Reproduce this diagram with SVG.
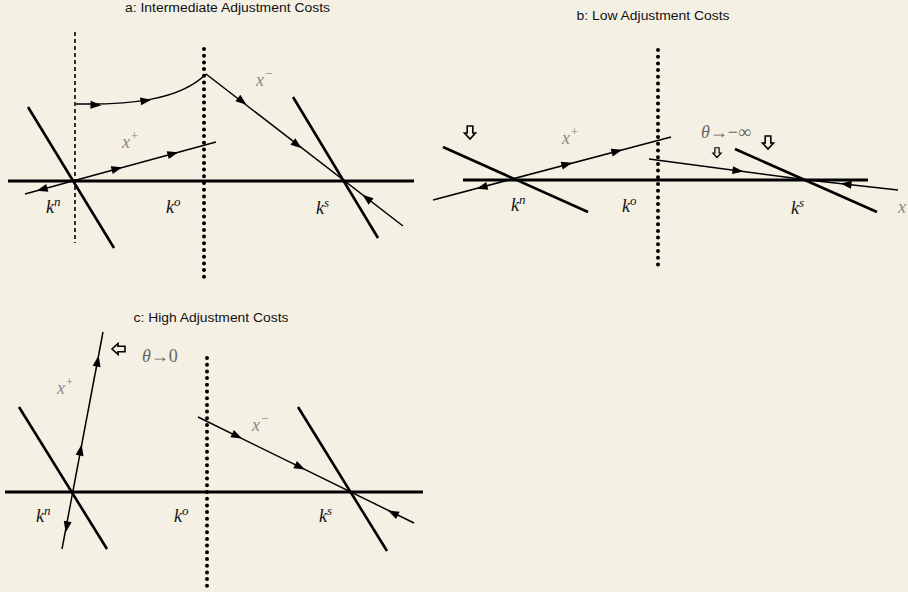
<svg xmlns="http://www.w3.org/2000/svg" xmlns:xlink="http://www.w3.org/1999/xlink" width="908" height="592" viewBox="0 0 908 592">
<style>
.title{font-family:"Liberation Sans",Arial,sans-serif;font-size:12px;fill:#111;text-anchor:middle}
.axis{stroke:#000;stroke-width:3;fill:none}
.thick{stroke:#000;stroke-width:2.6;fill:none}
.path{stroke:#000;stroke-width:1.5;fill:none}
.dots{stroke:#000;stroke-width:4;stroke-linecap:round;stroke-dasharray:0 6.7;fill:none}
.dash{stroke:#000;stroke-width:1.6;stroke-dasharray:4 3;fill:none}
.k{font-family:"Liberation Serif","Times New Roman",serif;font-style:italic;font-size:18px;fill:#111}
.sup{font-size:13px}
.xl{font-family:"Liberation Serif","Times New Roman",serif;font-style:italic;font-size:18px;fill:#888}
.th{font-family:"Liberation Serif","Times New Roman",serif;font-size:18px;fill:#666}
.hollow{fill:none;stroke:#000;stroke-width:1.6}
</style>
<defs>
<path id="ah" d="M4.5,0 L-6.5,-4 L-6.5,4 Z" fill="#000"/>
<path id="hd" d="M-2.8,-7 H2.8 V0 H5.5 L0,6 L-5.5,0 H-2.8 Z"/>
</defs>
<rect width="908" height="592" fill="#f4f0e4"/>

<!-- Panel a -->
<g id="panel-a">
<text class="title" x="227.5" y="12" textLength="205" lengthAdjust="spacingAndGlyphs">a: Intermediate Adjustment Costs</text>
<g id="a-axis"><line class="axis" x1="8" y1="181" x2="414" y2="181"/></g>
<g id="a-kn-bound"><line class="dash" x1="75" y1="32" x2="75" y2="243"/></g>
<g id="a-ko-bound"><line class="dots" x1="204" y1="49" x2="204" y2="277"/></g>
<g id="a-left-locus"><line class="thick" x1="28" y1="107" x2="114" y2="248"/></g>
<g id="a-right-locus"><line class="thick" x1="293" y1="97" x2="378" y2="238"/></g>
<g id="a-labels">
<text class="k" x="46" y="213">k<tspan class="sup" dy="-7">n</tspan></text>
<text class="k" x="166" y="213">k<tspan class="sup" dy="-7">o</tspan></text>
<text class="k" x="316" y="214">k<tspan class="sup" dy="-7">s</tspan></text>
<text class="xl" x="122" y="148">x<tspan class="sup" dy="-8">+</tspan></text>
<text class="xl" x="256" y="86">x<tspan class="sup" dy="-8">−</tspan></text>
</g>
</g>

<!-- Panel b -->
<g id="panel-b">
<text class="title" x="653" y="20" textLength="153" lengthAdjust="spacingAndGlyphs">b: Low Adjustment Costs</text>
<g id="b-axis"><line class="axis" x1="463" y1="180" x2="868" y2="180"/></g>
<g id="b-ko-bound"><line class="dots" x1="658" y1="50" x2="658" y2="267"/></g>
<g id="b-left-locus"><line class="thick" x1="443" y1="147" x2="588" y2="212"/></g>
<g id="b-right-locus"><line class="thick" x1="735" y1="149" x2="877" y2="212"/></g>
<g id="b-labels">
<text class="k" x="511" y="211">k<tspan class="sup" dy="-7">n</tspan></text>
<text class="k" x="622" y="212">k<tspan class="sup" dy="-7">o</tspan></text>
<text class="k" x="791" y="214">k<tspan class="sup" dy="-7">s</tspan></text>
<text class="xl" x="562" y="144">x<tspan class="sup" dy="-8">+</tspan></text>
<text class="xl" x="898" y="213">x</text>
<text class="th" x="701" y="138"><tspan font-style="italic">θ</tspan>→−∞</text>
</g>
<g id="b-shift-arrows">
<use xlink:href="#hd" class="hollow" transform="translate(470,133)"/>
<use xlink:href="#hd" class="hollow" transform="translate(717,153) scale(0.75)"/>
<use xlink:href="#hd" class="hollow" transform="translate(768,143)"/>
</g>
</g>

<!-- Panel c -->
<g id="panel-c">
<text class="title" x="211" y="322" textLength="155" lengthAdjust="spacingAndGlyphs">c: High Adjustment Costs</text>
<g id="c-axis"><line class="axis" x1="5" y1="492" x2="423" y2="492"/></g>
<g id="c-ko-bound"><line class="dots" x1="207" y1="358" x2="207" y2="586"/></g>
<g id="c-left-locus"><line class="thick" x1="19" y1="407" x2="107" y2="549"/></g>
<g id="c-right-locus"><line class="thick" x1="298" y1="407" x2="387" y2="551"/></g>
<g id="c-labels">
<text class="k" x="36" y="522">k<tspan class="sup" dy="-7">n</tspan></text>
<text class="k" x="174" y="522">k<tspan class="sup" dy="-7">o</tspan></text>
<text class="k" x="319" y="522">k<tspan class="sup" dy="-7">s</tspan></text>
<text class="xl" x="57" y="394">x<tspan class="sup" dy="-8">+</tspan></text>
<text class="xl" x="252" y="431">x<tspan class="sup" dy="-8">−</tspan></text>
<text class="th" x="142" y="362" fill="#333"><tspan font-style="italic">θ</tspan>→0</text>
</g>
<g id="c-shift-arrow">
<use xlink:href="#hd" class="hollow" transform="translate(118,349) rotate(90)"/>
</g>
</g>

<!-- Connectors (trajectories) -->
<g id="connectors">
<path class="path" d="M76,104 C130,105 180,100 206,74"/>
<line class="path" x1="206" y1="74" x2="403" y2="226"/>
<line class="path" x1="25" y1="194" x2="216" y2="142"/>
<line class="path" x1="433" y1="200" x2="671" y2="137"/>
<polyline class="path" points="649,159 808,180 898,190"/>
<line class="path" x1="62" y1="549" x2="103" y2="332"/>
<line class="path" x1="198" y1="417" x2="414" y2="523"/>

<use xlink:href="#ah" transform="translate(97,105) rotate(2)"/>
<use xlink:href="#ah" transform="translate(147,100.5) rotate(-8)"/>
<use xlink:href="#ah" transform="translate(243,102) rotate(37.8)"/>
<use xlink:href="#ah" transform="translate(298,145.5) rotate(37.8)"/>
<use xlink:href="#ah" transform="translate(366,197.5) rotate(217.8)"/>
<use xlink:href="#ah" transform="translate(118,168.5) rotate(-15.2)"/>
<use xlink:href="#ah" transform="translate(174,153.5) rotate(-15.2)"/>
<use xlink:href="#ah" transform="translate(41,189.5) rotate(164.8)"/>

<use xlink:href="#ah" transform="translate(568,164) rotate(-14.8)"/>
<use xlink:href="#ah" transform="translate(618,151) rotate(-14.8)"/>
<use xlink:href="#ah" transform="translate(481,187.5) rotate(165.2)"/>
<use xlink:href="#ah" transform="translate(739,171) rotate(7.5)"/>
<use xlink:href="#ah" transform="translate(845,184) rotate(186.3)"/>

<use xlink:href="#ah" transform="translate(80.8,449) rotate(-79.3)"/>
<use xlink:href="#ah" transform="translate(97.8,360) rotate(-79.3)"/>
<use xlink:href="#ah" transform="translate(66.5,528) rotate(100.7)"/>
<use xlink:href="#ah" transform="translate(238,436.5) rotate(26.1)"/>
<use xlink:href="#ah" transform="translate(301,467.5) rotate(26.1)"/>
<use xlink:href="#ah" transform="translate(392,512.5) rotate(206.1)"/>
</g>
</svg>
